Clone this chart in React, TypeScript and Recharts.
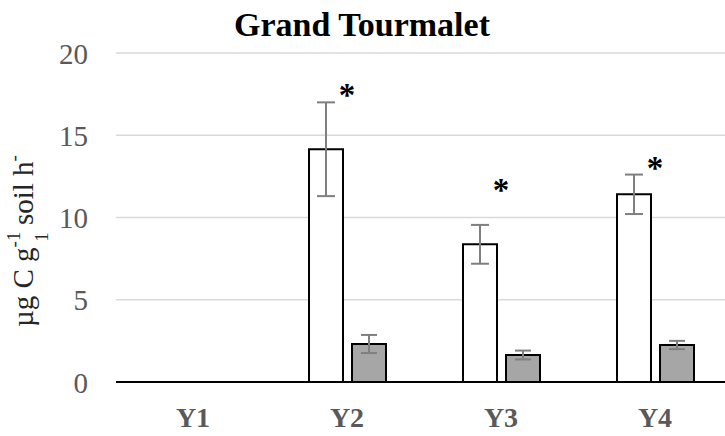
import React from 'react';
import { ComposedChart, Bar, Line, XAxis, YAxis, CartesianGrid, ErrorBar } from 'recharts';

const categories = ['Y1', 'Y2', 'Y3', 'Y4'];
const whiteValues: (number | null)[] = [null, 14.15, 8.37, 11.41];
const whiteErrors: (number | null)[] = [null, 2.85, 1.18, 1.2];
const grayValues: (number | null)[] = [null, 2.31, 1.64, 2.25];
const grayErrors: (number | null)[] = [null, 0.55, 0.27, 0.25];
const sigPositions: (number | null)[] = [null, 17.6, 11.85, 13.2];
const yTicks = [0, 5, 10, 15, 20];
const title = 'Grand Tourmalet';

const data = categories.map((c, i) => ({
  cat: c,
  white: whiteValues[i],
  whiteErr: whiteErrors[i],
  gray: grayValues[i],
  grayErr: grayErrors[i],
  sig: sigPositions[i],
}));

const SERIF = '"Liberation Serif", "Times New Roman", "DejaVu Serif", serif';

const YTick = (props: any) => {
  const { x, y, payload } = props;
  return (
    <text x={x - 20} y={y + 10.5} textAnchor="end" fill="#595959" fontSize={29} fontFamily={SERIF}>
      {payload.value}
    </text>
  );
};

const XTick = (props: any) => {
  const { x, y, payload } = props;
  return (
    <text x={x} y={y + 37} textAnchor="middle" fill="#595959" fontSize={28} fontWeight="bold" fontFamily={SERIF}>
      {payload.value}
    </text>
  );
};

const StarDot = (props: any) => {
  const { cx, cy, value, index } = props;
  if (value == null || cy == null || isNaN(cy)) return <g key={`s-${index}`} />;
  return (
    <text key={`s-${index}`} x={cx} y={cy + 14} textAnchor="middle" fill="#000" fontSize={33} fontWeight="bold" fontFamily={SERIF}>
      *
    </text>
  );
};

const YLabel = (props: any) => {
  const vb = props.viewBox || { x: 0, y: 53, width: 116, height: 329 };
  const bx = vb.x + 33;
  const by = vb.y + vb.height - 55;
  return (
    <text
      x={bx}
      y={by}
      transform={`rotate(-90, ${bx}, ${by})`}
      textAnchor="start"
      fill="#262626"
      fontSize={29}
      fontFamily={SERIF}
    >
      <tspan>µg C g</tspan>
      <tspan fontSize={19} dy={-13}>-1</tspan>
      <tspan fontSize={19} dx={-9.5} dy={28}>1</tspan>
      <tspan dy={-15}> soil h</tspan>
      <tspan fontSize={19} dy={-13}>-</tspan>
    </text>
  );
};

export default function App() {
  return (
    <div style={{ position: 'absolute', left: 0, top: 0, width: 725, height: 436, overflow: 'hidden', background: '#fff' }}>
      <ComposedChart
        width={745}
        height={436}
        data={data}
        margin={{ top: 53, right: 13, left: 0, bottom: 0 }}
        barSize={34}
        barGap={9}
      >
        <CartesianGrid vertical={false} stroke="#d9d9d9" strokeWidth={1.5} />
        <XAxis
          dataKey="cat"
          height={54}
          axisLine={{ stroke: '#000', strokeWidth: 2 }}
          tickLine={false}
          tick={<XTick />}
          interval={0}
        />
        <YAxis
          width={116}
          domain={[0, 20]}
          ticks={yTicks}
          axisLine={false}
          tickLine={false}
          tick={<YTick />}
          label={{ content: <YLabel /> }}
        />
        <Bar dataKey="white" fill="#ffffff" stroke="#000" strokeWidth={2} isAnimationActive={false}>
          <ErrorBar dataKey="whiteErr" width={9} stroke="#7f7f7f" strokeWidth={2} />
        </Bar>
        <Bar dataKey="gray" fill="#a6a6a6" stroke="#000" strokeWidth={2} isAnimationActive={false}>
          <ErrorBar dataKey="grayErr" width={8} stroke="#7f7f7f" strokeWidth={2} />
        </Bar>
        <Line dataKey="sig" stroke="none" dot={<StarDot />} activeDot={false} isAnimationActive={false} legendType="none" />
      </ComposedChart>
      <svg width={725} height={60} style={{ position: 'absolute', left: 0, top: 0, pointerEvents: 'none' }}>
        <text x={362} y={35.5} textAnchor="middle" fill="#000" fontSize={34} fontWeight="bold" fontFamily={SERIF}>
          {title}
        </text>
      </svg>
    </div>
  );
}
